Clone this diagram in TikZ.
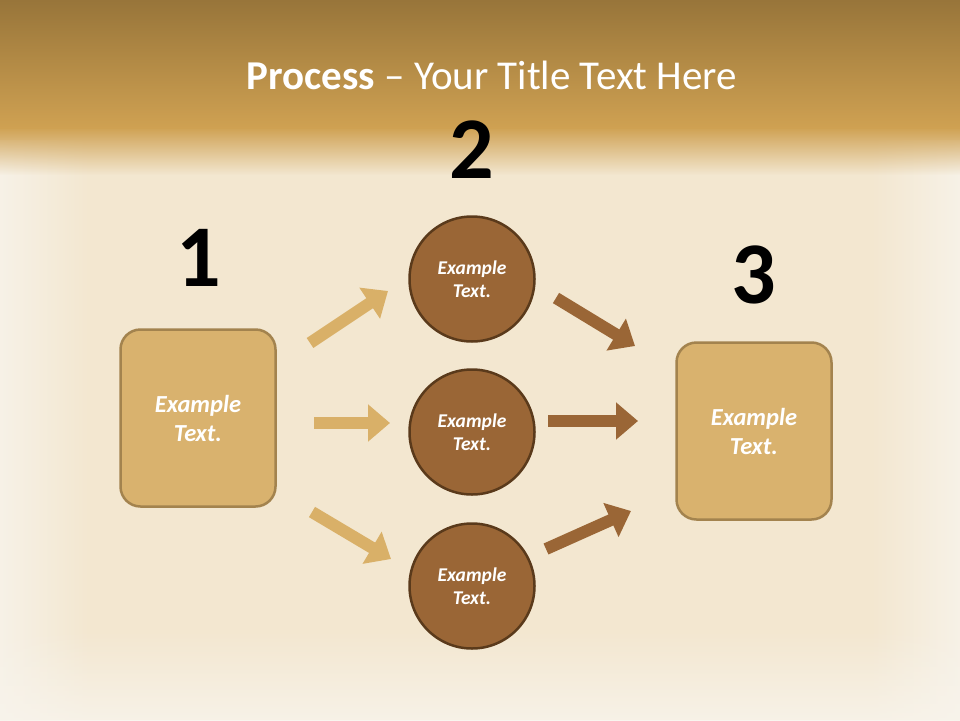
\documentclass[tikz,border=0pt]{standalone}
\usepackage{fontspec}
\setmainfont{Carlito}
\usetikzlibrary{arrows.meta,fadings}

\definecolor{bandtop}{HTML}{8F6E36}
\definecolor{bandbot}{HTML}{CFA152}
\definecolor{paper}{HTML}{F3E7D0}
\definecolor{frame}{HTML}{F8F4EC}
\definecolor{tan}{HTML}{D9B26E}
\definecolor{tanline}{HTML}{A3834E}
\definecolor{brown}{HTML}{9A6636}
\definecolor{brownline}{HTML}{5A3A1B}
\definecolor{tanarrow}{HTML}{D9B068}

\tikzset{
  stepbox/.style={draw=tanline, line width=2.5pt, fill=tan, rounded corners=20pt,
    minimum width=155pt, minimum height=177pt, align=center, text=white,
    font=\fontsize{24.5}{29}\selectfont\bfseries\itshape},
  stepcircle/.style={circle, draw=brownline, line width=2.5pt, fill=brown,
    minimum size=125pt, align=center, text=white,
    font=\fontsize{19.5}{23}\selectfont\bfseries\itshape},
  stepnum/.style={font=\fontsize{88}{88}\selectfont\bfseries},
  flow/.style={line width=12pt, -{Triangle[length=22pt,width=36pt]}},
}

\begin{document}
\begin{tikzpicture}[x=1pt,y=-1pt]
  \useasboundingbox (0,0) rectangle (960,720);

  % Background: parchment, soft light frame, golden title band
  \fill[paper] (0,0) rectangle (960,720);
  \fill[frame, path fading=east] (-20,140) rectangle (90,740);
  \fill[frame, path fading=west] (870,140) rectangle (980,740);
  \fill[frame, path fading=north] (-20,630) rectangle (980,740);
  \shade[top color=bandtop, bottom color=bandbot] (-20,-20) rectangle (980,128);
  \fill[bandbot, path fading=south] (-20,127) rectangle (980,175);

  % Title
  \node[text=white, font=\fontsize{41}{41}\selectfont] (title) at (492,75)
    {\textbf{Process} -- Your Title Text Here};

  % Step numbers
  \node[stepnum] (num1) at (199,258) {1};
  \node[stepnum] (num2) at (472,150) {2};
  \node[stepnum] (num3) at (754,275) {3};

  % Boxes and circles
  \node[stepbox] (start) at (198,418) {Example\\Text.};
  \node[stepbox] (finish) at (754,431) {Example\\Text.};
  \node[stepcircle] (top) at (472,279) {Example\\Text.};
  \node[stepcircle] (mid) at (472,432) {Example\\Text.};
  \node[stepcircle] (bot) at (472,586) {Example\\Text.};

  % Arrow ends
  \coordinate (a1s) at (310,343); \coordinate (a1e) at (388,291);
  \coordinate (a2s) at (314,423); \coordinate (a2e) at (390,423);
  \coordinate (a3s) at (312,512); \coordinate (a3e) at (391,559);
  \coordinate (b1s) at (556,298); \coordinate (b1e) at (635,346);
  \coordinate (b2s) at (548,421); \coordinate (b2e) at (638,421);
  \coordinate (b3s) at (546,549); \coordinate (b3e) at (631,511);

  % Arrows
  \draw[flow, tanarrow] (a1s) -- (a1e);
  \draw[flow, tanarrow] (a2s) -- (a2e);
  \draw[flow, tanarrow] (a3s) -- (a3e);
  \draw[flow, brown] (b1s) -- (b1e);
  \draw[flow, brown] (b2s) -- (b2e);
  \draw[flow, brown] (b3s) -- (b3e);
\end{tikzpicture}
\end{document}
